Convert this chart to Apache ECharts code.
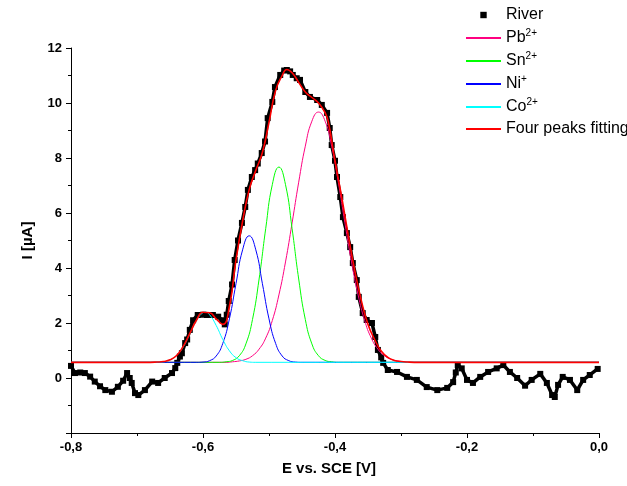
<!DOCTYPE html>
<html>
<head>
<meta charset="utf-8">
<script src="https://cdn.jsdelivr.net/npm/echarts@6/dist/echarts.min.js"></script>
<style>
  html, body { margin: 0; padding: 0; background: #fff; }
  #chart { width: 627px; height: 486px; }
</style>
</head>
<body>
<div id="chart"></div>
<script>
// measured river data, E [V] vs I [uA]
const river = [
  [-0.800, 0.44], [-0.794, 0.18], [-0.786, 0.20], [-0.779, 0.18], [-0.771, 0.05], [-0.764, -0.13],
  [-0.756, -0.30], [-0.748, -0.44], [-0.738, -0.50], [-0.729, -0.32], [-0.721, -0.10], [-0.715, 0.18],
  [-0.711, 0.00], [-0.708, -0.18], [-0.703, -0.55], [-0.698, -0.62], [-0.688, -0.44], [-0.677, -0.13],
  [-0.668, -0.18], [-0.658, 0.00], [-0.647, 0.18], [-0.642, 0.36], [-0.639, 0.55], [-0.635, 0.78],
  [-0.632, 0.90], [-0.627, 1.27], [-0.624, 1.40], [-0.620, 1.75], [-0.615, 2.10], [-0.608, 2.29],
  [-0.600, 2.30], [-0.594, 2.29], [-0.585, 2.29], [-0.577, 2.23], [-0.571, 2.10], [-0.567, 1.95],
  [-0.564, 2.30], [-0.561, 2.80], [-0.556, 3.40], [-0.552, 4.29], [-0.547, 5.00], [-0.541, 5.64],
  [-0.536, 6.22], [-0.532, 6.84], [-0.526, 7.31], [-0.521, 7.56], [-0.517, 7.80], [-0.511, 8.18],
  [-0.506, 8.60], [-0.502, 9.45], [-0.495, 10.04], [-0.491, 10.58], [-0.483, 11.02], [-0.477, 11.18],
  [-0.473, 11.20], [-0.468, 11.15], [-0.464, 11.02], [-0.458, 10.90], [-0.453, 10.84], [-0.445, 10.40],
  [-0.438, 10.22], [-0.427, 10.11], [-0.420, 9.93], [-0.412, 9.64], [-0.408, 9.09], [-0.405, 8.47],
  [-0.400, 7.90], [-0.397, 7.31], [-0.392, 6.58], [-0.388, 5.85], [-0.382, 5.27], [-0.377, 4.76],
  [-0.373, 4.18], [-0.367, 3.56], [-0.364, 2.95], [-0.358, 2.36], [-0.352, 2.11], [-0.344, 2.00],
  [-0.339, 1.49], [-0.335, 1.02], [-0.330, 0.75], [-0.327, 0.55], [-0.320, 0.29], [-0.306, 0.22],
  [-0.291, 0.04], [-0.276, -0.07], [-0.261, -0.33], [-0.245, -0.44], [-0.230, -0.36], [-0.221, -0.15],
  [-0.217, 0.20], [-0.214, 0.47], [-0.208, 0.35], [-0.200, -0.07], [-0.191, -0.18], [-0.180, 0.04],
  [-0.168, 0.22], [-0.155, 0.35], [-0.145, 0.47], [-0.135, 0.22], [-0.124, 0.00], [-0.112, -0.28],
  [-0.102, -0.07], [-0.089, 0.15], [-0.079, -0.18], [-0.071, -0.62], [-0.067, -0.69], [-0.062, -0.25],
  [-0.055, 0.04], [-0.044, -0.07], [-0.033, -0.44], [-0.024, -0.07], [-0.014, 0.11], [-0.002, 0.33]
]

// fitted component peaks
const pb = [
  [-0.8, 0.57], [-0.565, 0.57], [-0.555, 0.59], [-0.545, 0.62], [-0.535, 0.68], [-0.525, 0.81],
  [-0.515, 1.05], [-0.505, 1.45], [-0.495, 2.09], [-0.485, 3.02], [-0.475, 4.22], [-0.465, 5.64],
  [-0.455, 7.12], [-0.445, 8.43], [-0.435, 9.34], [-0.425, 9.67], [-0.415, 9.34], [-0.405, 8.43],
  [-0.395, 7.12], [-0.385, 5.64], [-0.375, 4.22], [-0.365, 3.02], [-0.355, 2.09], [-0.345, 1.45],
  [-0.335, 1.05], [-0.325, 0.81], [-0.315, 0.68], [-0.305, 0.62], [-0.295, 0.59], [-0.285, 0.57], [0, 0.57]
]
const sn = [
  [-0.8, 0.57], [-0.575, 0.57], [-0.565, 0.59], [-0.555, 0.64], [-0.545, 0.81], [-0.535, 1.24],
  [-0.525, 2.13], [-0.515, 3.60], [-0.505, 5.43], [-0.495, 7.03], [-0.485, 7.67], [-0.475, 7.03],
  [-0.465, 5.43], [-0.455, 3.60], [-0.445, 2.13], [-0.435, 1.24], [-0.425, 0.81], [-0.415, 0.64],
  [-0.405, 0.59], [-0.395, 0.57], [0, 0.57]
]
const ni = [
  [-0.8, 0.57], [-0.61, 0.57], [-0.60, 0.58], [-0.59, 0.63], [-0.58, 0.80], [-0.57, 1.26], [-0.56, 2.15],
  [-0.55, 3.43], [-0.54, 4.66], [-0.53, 5.17], [-0.52, 4.66], [-0.51, 3.43], [-0.50, 2.15],
  [-0.49, 1.26], [-0.48, 0.80], [-0.47, 0.63], [-0.46, 0.58], [-0.45, 0.57], [0, 0.57]
]
const co = [
  [-0.8, 0.57], [-0.68, 0.57], [-0.67, 0.58], [-0.66, 0.59], [-0.65, 0.66], [-0.64, 0.82], [-0.63, 1.13],
  [-0.62, 1.60], [-0.61, 2.09], [-0.60, 2.38], [-0.597, 2.40], [-0.59, 2.30], [-0.58, 1.91], [-0.57, 1.40],
  [-0.56, 0.99], [-0.55, 0.74], [-0.54, 0.63], [-0.53, 0.58], [-0.52, 0.57], [0, 0.57]
]
const fit = [
  [-0.8, 0.57], [-0.68, 0.57], [-0.67, 0.58], [-0.66, 0.60], [-0.65, 0.66], [-0.64, 0.82], [-0.63, 1.15],
  [-0.62, 1.62], [-0.61, 2.10], [-0.60, 2.39], [-0.59, 2.37], [-0.58, 2.15], [-0.57, 1.95], [-0.56, 2.6],
  [-0.55, 4.3], [-0.54, 5.7], [-0.53, 6.85], [-0.52, 7.55], [-0.51, 8.2], [-0.50, 9.3], [-0.49, 10.45],
  [-0.48, 11.0], [-0.473, 11.22], [-0.465, 11.1], [-0.455, 10.75], [-0.445, 10.4], [-0.435, 10.2],
  [-0.425, 10.0], [-0.415, 9.65], [-0.41, 9.3], [-0.40, 7.9], [-0.39, 6.6], [-0.38, 5.2], [-0.37, 3.9],
  [-0.36, 2.8], [-0.35, 1.95], [-0.34, 1.4], [-0.33, 0.98], [-0.32, 0.75], [-0.31, 0.64], [-0.30, 0.60],
  [-0.29, 0.58], [-0.28, 0.57], [0, 0.57]
]

const legendSup = { Pb: '2+', Sn: '2+', Ni: '+', Co: '2+' }

const chart = echarts.init(document.getElementById('chart'))
const font = '"Liberation Sans", Arial, sans-serif'
const noDot = { opacity: 0 }

const option = {
  animation: false,
  textStyle: { fontFamily: font },
  grid: { left: 71, right: 28, top: 48, bottom: 53 },
  legend: {
    orient: 'vertical',
    left: 465,
    top: 6,
    padding: 0,
    itemWidth: 35,
    itemHeight: 8,
    itemGap: 4,
    data: [
      { name: 'River', lineStyle: { opacity: 0 } },
      { name: 'Pb', itemStyle: noDot },
      { name: 'Sn', itemStyle: noDot },
      { name: 'Ni', itemStyle: noDot },
      { name: 'Co', itemStyle: noDot },
      { name: 'Four peaks fitting', itemStyle: noDot }
    ],
    formatter: function(name) {
      return legendSup[name] ? name + '{sup|' + legendSup[name] + '}' : name
    },
    textStyle: {
      fontFamily: font,
      fontSize: 16,
      color: '#000',
      lineHeight: 18,
      rich: {
        sup: { fontSize: 10, fontFamily: font, color: '#000', padding: [0, 0, 10, 0] }
      }
    }
  },
  xAxis: {
    type: 'value',
    min: -0.8,
    max: 0,
    interval: 0.2,
    name: 'E vs. SCE [V]',
    nameLocation: 'middle',
    nameGap: 28,
    nameTextStyle: { fontSize: 15, fontWeight: 'bold', color: '#000', fontFamily: font, padding: [0, 12, 0, 0] },
    axisLine: { onZero: false, lineStyle: { color: '#000', width: 1 } },
    axisTick: { show: true, length: 5, inside: false, lineStyle: { color: '#000' } },
    minorTick: { show: true, splitNumber: 2, length: 3, lineStyle: { color: '#000' } },
    splitLine: { show: false },
    axisLabel: {
      fontSize: 13, fontWeight: 'bold', color: '#000', margin: 8,
      formatter: function(v) { return v.toFixed(1).replace('.', ',') }
    }
  },
  yAxis: {
    type: 'value',
    min: -2,
    max: 12,
    interval: 2,
    name: 'I [µA]',
    nameLocation: 'middle',
    nameGap: 36,
    nameRotate: 90,
    nameTextStyle: { fontSize: 15, fontWeight: 'bold', color: '#000', fontFamily: font },
    axisLine: { show: true, onZero: false, lineStyle: { color: '#000', width: 1 } },
    axisTick: { show: true, length: 5, inside: false, lineStyle: { color: '#000' } },
    minorTick: { show: true, splitNumber: 2, length: 3, lineStyle: { color: '#000' } },
    splitLine: { show: false },
    axisLabel: {
      fontSize: 13, fontWeight: 'bold', color: '#000', margin: 9,
      formatter: function(v) { return v === -2 ? '' : String(v) }
    }
  },
  series: [
    {
      name: 'River',
      type: 'line',
      data: river,
      symbol: 'rect',
      symbolSize: 6,
      showSymbol: true,
      itemStyle: { color: '#000' },
      lineStyle: { color: '#000', width: 3.5 },
      z: 1
    },
    {
      name: 'Pb', type: 'line', data: pb, smooth: true, symbol: 'none',
      itemStyle: { color: '#FF0080' }, lineStyle: { color: '#FF0080', width: 1 }, z: 2
    },
    {
      name: 'Sn', type: 'line', data: sn, smooth: true, symbol: 'none',
      itemStyle: { color: '#00FF00' }, lineStyle: { color: '#00FF00', width: 1 }, z: 2
    },
    {
      name: 'Ni', type: 'line', data: ni, smooth: true, symbol: 'none',
      itemStyle: { color: '#0000FF' }, lineStyle: { color: '#0000FF', width: 1 }, z: 2
    },
    {
      name: 'Co', type: 'line', data: co, smooth: true, symbol: 'none',
      itemStyle: { color: '#00FFFF' }, lineStyle: { color: '#00FFFF', width: 1 }, z: 2
    },
    {
      name: 'Four peaks fitting', type: 'line', data: fit, smooth: true, symbol: 'none',
      itemStyle: { color: '#FF0000' }, lineStyle: { color: '#FF0000', width: 1.6 }, z: 3
    }
  ]
}

chart.setOption(option)
</script>
</body>
</html>
